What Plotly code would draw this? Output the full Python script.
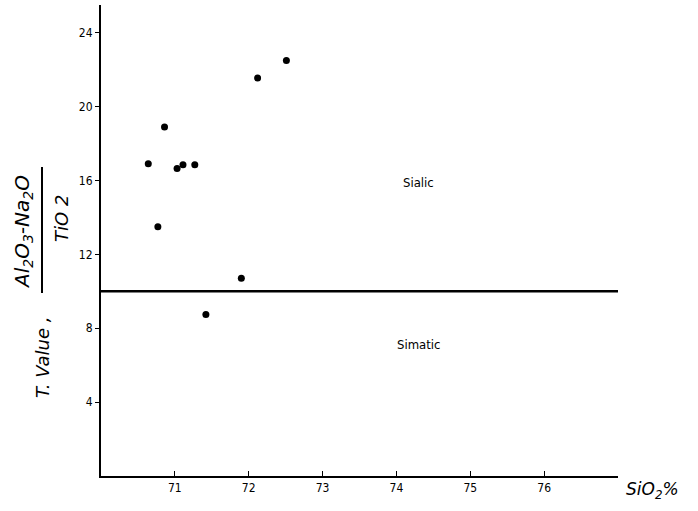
import plotly.graph_objects as go

sio2 = [70.64, 70.86, 70.77, 71.03, 71.11, 71.27, 71.42, 71.90, 72.12, 72.51]
t_value = [16.9, 18.9, 13.5, 16.65, 16.85, 16.85, 8.75, 10.7, 21.55, 22.5]
x_ticks = [71, 72, 73, 74, 75, 76]
y_ticks = [4, 8, 12, 16, 20, 24]
boundary_y = 10.0
x_range = [70, 77]
y_range = [0, 25.5]

font_fam = "DejaVu Sans Condensed, DejaVu Sans, sans-serif"

W = 517.0
H = 471.0
def px_x(p):
    return (p - 101) / W
def px_y(p):
    return (476 - p) / H

fig = go.Figure()
fig.add_trace(go.Scatter(x=x_range, y=[boundary_y, boundary_y], mode="lines",
                         line=dict(color="black", width=2.5), hoverinfo="skip"))
fig.add_trace(go.Scatter(x=sio2, y=t_value, mode="markers",
                         marker=dict(color="black", size=7)))

fig.add_annotation(x=74.3, y=15.9, text="Sialic", showarrow=False,
                   font=dict(family=font_fam, size=13, color="black"))
fig.add_annotation(x=74.3, y=7.1, text="Simatic", showarrow=False,
                   font=dict(family=font_fam, size=13, color="black"))

# x-axis label
fig.add_annotation(xref="paper", yref="paper", x=px_x(624), y=px_y(490),
                   xanchor="left", yanchor="middle",
                   text="<i>SiO<sub>2</sub>%</i>", showarrow=False,
                   font=dict(family="DejaVu Sans, sans-serif", size=17, color="black"))

# y-axis label (rotated)
fig.add_annotation(xref="paper", yref="paper", x=px_x(42), y=px_y(358), textangle=-90,
                   xanchor="center", yanchor="middle",
                   text="<i>T. Value ,</i>", showarrow=False,
                   font=dict(family="DejaVu Sans, sans-serif", size=18, color="black"))
fig.add_annotation(xref="paper", yref="paper", x=px_x(23), y=px_y(232), textangle=-90,
                   xanchor="center", yanchor="middle",
                   text="<i>Al<sub>2</sub>O<sub>3</sub>-Na<sub>2</sub>O</i>", showarrow=False,
                   font=dict(family="DejaVu Sans, sans-serif", size=20, color="black"))
fig.add_annotation(xref="paper", yref="paper", x=px_x(61), y=px_y(219), textangle=-90,
                   xanchor="center", yanchor="middle",
                   text="<i>TiO 2</i>", showarrow=False,
                   font=dict(family="DejaVu Sans, sans-serif", size=18, color="black"))
fig.add_shape(type="line", xref="paper", yref="paper",
              x0=px_x(42), x1=px_x(42), y0=px_y(167), y1=px_y(293),
              line=dict(color="black", width=2))

fig.update_layout(
    width=698, height=511,
    margin=dict(l=101, r=80, t=5, b=35),
    plot_bgcolor="white", paper_bgcolor="white",
    showlegend=False,
    xaxis=dict(range=x_range, tickvals=x_ticks, ticks="inside", ticklen=5,
               tickcolor="black", showline=True, linecolor="black", linewidth=2,
               showgrid=False, zeroline=False,
               tickfont=dict(family=font_fam, size=12, color="black")),
    yaxis=dict(range=y_range, tickvals=y_ticks, ticks="outside", ticklen=4,
               tickcolor="black", showline=True, linecolor="black", linewidth=2,
               showgrid=False, zeroline=False,
               tickfont=dict(family=font_fam, size=12, color="black")),
)

fig.write_html("out.html", config={"displayModeBar": False},
               post_script="document.body.style.margin='0';")
